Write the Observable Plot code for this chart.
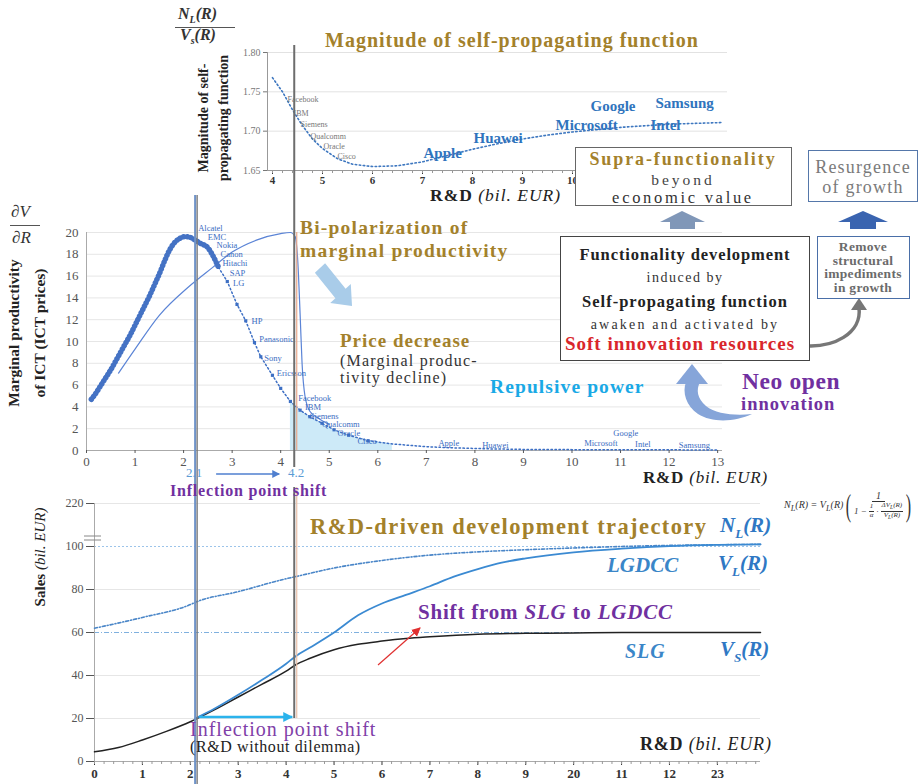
<!DOCTYPE html>
<html><head><meta charset="utf-8">
<script src="https://cdn.jsdelivr.net/npm/d3@7"></script>
<script src="https://cdn.jsdelivr.net/npm/@observablehq/plot@0.6"></script>
<style>
body{margin:0;background:#fff;}
#wrap{position:relative;width:922px;height:784px;overflow:hidden;font-family:"Liberation Serif","Times New Roman",serif;background:#fff;}
#wrap > svg{position:absolute;left:0;top:0;}
.t{position:absolute;white-space:nowrap;line-height:0.85;font-family:"Liberation Serif","Times New Roman",serif;}
.box{position:absolute;background:#fff;box-sizing:border-box;}
.fr{display:inline-flex;flex-direction:column;align-items:center;vertical-align:middle;line-height:1.05;}
.fr > span:first-child{border-bottom:1px solid #333;padding:0 1px;}
</style></head><body><div id="wrap"></div><script>
const FONT = '"Liberation Serif","Times New Roman",serif';
// ---------- top panel: magnitude of self-propagating function ----------
const topRD  = [4.0,4.2,4.4,4.6,4.8,5.0,5.3,5.6,6.0,6.5,7.0,7.5,8.0,8.5,9.0,9.5,10,10.5,11,11.5,12,12.5,13];
const topMag = [1.768,1.75,1.727,1.707,1.69,1.678,1.665,1.658,1.655,1.656,1.661,1.669,1.677,1.684,1.69,1.695,1.699,1.702,1.705,1.707,1.709,1.71,1.711];
const topSmallNames = ["Facebook","IBM","Siemens","Qualcomm","Oracle","Cisco"];
const topSmallX = [4.3,4.42,4.56,4.76,5.02,5.3];
const topSmallY = [1.74,1.723,1.708,1.693,1.68,1.668];
const topBigNames = ["Apple","Huawei","Microsoft","Intel","Google","Samsung"];
const topBigX = [7.02,8.02,9.66,11.56,10.36,11.66];
const topBigY = [1.6715,1.6905,1.708,1.708,1.732,1.735];
const topYTicks = [1.65,1.70,1.75,1.80];
const topXTicks = [4,5,6,7,8,9,10];

// ---------- middle panel: marginal productivity ----------
const aThickX = [0.1,0.2,0.3,0.4,0.5,0.6,0.7,0.8,0.9,1.0,1.1,1.2,1.3,1.4,1.5,1.6,1.7,1.8,1.9,2.0,2.1,2.2,2.35,2.5,2.6,2.72];
const aThickY = [4.7,5.3,6.0,6.7,7.4,8.2,9.0,9.8,10.6,11.5,12.4,13.3,14.2,15.2,16.2,17.3,18.3,19.0,19.4,19.6,19.6,19.4,19.0,18.6,17.9,16.8];
const aThinX = [2.72,2.9,3.1,3.28,3.46,3.59,3.83,4.0,4.2,4.4,4.6,4.85,5.1,5.4,5.8,6.3,7.0,7.5,8.3,9.0,10.0,11.0,12.0,13.0];
const aThinY = [16.8,15.5,13.4,11.9,9.9,8.6,6.9,5.7,4.5,3.7,3.1,2.5,1.9,1.4,0.9,0.6,0.35,0.25,0.15,0.1,0.08,0.08,0.06,0.05];
const bX = [0.66,1.0,1.5,2.1,2.6,3.0,3.5,4.0,4.2,4.3,4.35,4.4,4.44,4.5,4.6,4.8,5.0];
const bY = [7.1,9.3,12.4,15.0,16.8,18.2,19.3,19.9,20.0,19.6,17.5,12.5,8.0,5.0,3.6,2.9,2.4];
const midNames = ["Alcatel","EMC","Nokia","Canon","Hitachi","SAP","LG","HP","Panasonic","Sony","Ericsson","Facebook","IBM","Siemens","Qualcomm","Oracle","Cisco","Apple","Huawei","Microsoft","Google","Intel","Samsung"];
const midNameX = [2.3,2.5,2.68,2.76,2.8,2.95,3.02,3.4,3.56,3.66,3.92,4.36,4.5,4.6,4.85,5.17,5.58,7.25,8.15,10.25,10.85,11.3,12.2];
const midNameY = [20.4,19.6,18.8,18.0,17.2,16.3,15.3,11.9,10.2,8.5,7.1,4.8,3.95,3.15,2.4,1.6,0.85,0.7,0.45,0.7,1.6,0.6,0.45];
const midXTicks = [0,1,2,3,4,5,6,7,8,9,10,11,12,13];
const midYTicks = [0,2,4,6,8,10,12,14,16,18,20];

// ---------- bottom panel: development trajectory ----------
const vsX = [0,0.5,1,1.5,2,2.5,3,3.5,4,4.2,4.5,5,5.5,6,6.5,7,8,9,10,11,12,13,13.9];
const vsY = [4.5,6.5,10,14,18.5,24,30,36,42,45,48,52,54.5,56,57.2,58,59.2,59.6,59.8,60,60,60,60];
const vlX = [2.1,2.5,3,3.5,4,4.2,4.5,5,5.5,6,6.5,7,7.5,8,8.5,9,10,11,12,13,13.9];
const vlY = [20,24.5,31,38,45.5,49,53,60,68,73.5,77.5,81.5,86,89.5,92.5,94.5,97.3,99,100.2,100.8,101];
const nlX = [0,1,2,2.1,3,4,4.2,5,6,7,8,9,10,11,12,13,13.9];
const nlY = [62,67,73,74,79,85,86,90,93.5,96,97.5,98.5,99.3,100,100.5,100.8,101];
const botXTicks  = [0,1,2,3,4,5,6,7,8,9,10,11,12,13];
const botXLabels = ["0","1","2","3","4","5","6","7","8","9","20","11","12","23"];
const botYTicks  = [0,20,40,60,80,100,120];
const botYLabels = ["0","20","40","60","80","100","220"];
const inflection = [2.1, 4.2];

const pts = (xs, ys) => xs.map((x, i) => ({x, y: ys[i]}));
const wrap = document.getElementById("wrap");
const W = 922;
const baseStyle = {background: "transparent", overflow: "visible", fontFamily: FONT};

const topChart = Plot.plot({
  width: W, height: 200, marginLeft: 267, marginRight: W - 727, marginTop: 52, marginBottom: 30,
  x: {domain: [3.9, 13.1], label: null}, y: {domain: [1.65, 1.80], label: null},
  style: baseStyle,
  marks: [
    Plot.gridY({ticks: [1.70, 1.75, 1.80], stroke: "#e2e2e2", strokeOpacity: 1}),
    Plot.ruleX([3.9], {stroke: "#999"}),
    Plot.ruleY([1.65], {stroke: "#999"}),
    Plot.axisY({ticks: topYTicks, tickFormat: d => d.toFixed(2), tickSize: 4, tickPadding: 3, color: "#777", fontSize: 10, label: null}),
    Plot.axisX({ticks: topXTicks, tickFormat: d => String(d), tickSize: 4, tickPadding: 2, color: "#333", fontSize: 11, fontWeight: "bold", label: null}),
    Plot.axisX({ticks: d3.range(4, 13.05, 0.2), tickFormat: () => "", tickSize: 3, color: "#999", label: null}),
    Plot.line(pts(topRD, topMag), {x: "x", y: "y", stroke: "#3f78c0", strokeWidth: 1.6, strokeDasharray: "1.5,2.5"}),
    Plot.text(topSmallNames, {x: (d, i) => topSmallX[i], y: (d, i) => topSmallY[i], text: d => d, textAnchor: "start", fontSize: 8, fill: "#777"}),
    Plot.text(topBigNames, {x: (d, i) => topBigX[i], y: (d, i) => topBigY[i], text: d => d, textAnchor: "start", fontSize: 15, fontWeight: "bold", fill: "#2f74bd"})
  ]
});

const shade = pts(aThinX, aThinY).filter(d => d.x >= 4.2 && d.x <= 6.3);
const midChart = Plot.plot({
  width: W, height: 480, marginLeft: 86, marginRight: W - 722, marginTop: 232, marginBottom: 30,
  x: {domain: [0, 13.1], label: null}, y: {domain: [0, 20], label: null},
  style: baseStyle,
  marks: [
    Plot.gridY({ticks: d3.range(2, 21, 2), stroke: "#e6e6e6", strokeOpacity: 1}),
    Plot.areaY(shade, {x: "x", y: "y", fill: "#cdeaf8"}),
    Plot.ruleY([0], {stroke: "#aaa"}),
    Plot.ruleX([0], {stroke: "#aaa"}),
    Plot.axisY({ticks: midYTicks, tickSize: 0, tickPadding: 8, color: "#555", fontSize: 13, label: null}),
    Plot.axisX({ticks: midXTicks, tickSize: 3, tickPadding: 3, color: "#555", fontSize: 13, label: null}),
    Plot.line(pts(bX, bY), {x: "x", y: "y", stroke: "#5b84d6", strokeWidth: 1.2, curve: "monotone-x"}),
    Plot.line(pts(aThinX, aThinY), {x: "x", y: "y", stroke: "#3d6fc4", strokeWidth: 1.5, strokeDasharray: "1.5,2.5"}),
    Plot.dot(pts(aThinX, aThinY).filter(d => d.x < 6), {x: "x", y: "y", symbol: "square", r: 1.8, fill: "#3d6fc4"}),
    Plot.line(pts(aThickX, aThickY), {x: "x", y: "y", stroke: "#4472c4", strokeWidth: 5.5, strokeDasharray: "0.1,3.6", strokeLinecap: "round", curve: "monotone-x"}),
    Plot.text(midNames, {x: (d, i) => midNameX[i], y: (d, i) => midNameY[i], text: d => d, textAnchor: "start", fontSize: 8.5, fill: "#3c6dc2"})
  ]
});

const botChart = Plot.plot({
  width: W, height: 784, marginLeft: 94, marginRight: W - 760, marginTop: 503, marginBottom: 23,
  x: {domain: [0, 13.9], label: null}, y: {domain: [0, 120], label: null},
  style: baseStyle,
  marks: [
    Plot.gridY({ticks: [20, 40, 80, 120], stroke: "#e6e6e6", strokeOpacity: 1}),
    Plot.ruleY([60], {stroke: "#7fb0de", strokeDasharray: "5,2,1,2", strokeWidth: 1}),
    Plot.ruleY([100], {stroke: "#9cc4ea", strokeDasharray: "2,2", strokeWidth: 1}),
    Plot.ruleX([0], {stroke: "#aaa"}),
    Plot.ruleY([0], {stroke: "#aaa"}),
    Plot.axisY({ticks: botYTicks, tickFormat: d => botYLabels[botYTicks.indexOf(d)], tickSize: 8, tickPadding: 3, color: "#555", fontSize: 12, label: null}),
    Plot.axisX({ticks: botXTicks, tickFormat: d => botXLabels[botXTicks.indexOf(d)], tickSize: 4, tickPadding: 3, color: "#333", fontSize: 13, fontWeight: "bold", label: null}),
    Plot.axisX({ticks: d3.range(0, 13.9, 0.2), tickFormat: () => "", tickSize: 3, color: "#999", label: null}),
    Plot.line(pts(nlX, nlY), {x: "x", y: "y", stroke: "#4a86c8", strokeWidth: 1.6, strokeDasharray: "3,2,1,2", curve: "monotone-x"}),
    Plot.line(pts(vsX, vsY), {x: "x", y: "y", stroke: "#222", strokeWidth: 1.5, curve: "monotone-x"}),
    Plot.line(pts(vlX, vlY), {x: "x", y: "y", stroke: "#3b8ad2", strokeWidth: 1.8, curve: "monotone-x"})
  ]
});

[topChart, midChart, botChart].forEach(c => wrap.appendChild(c));

// ---------- overlay (lines and arrows from the scales) ----------
const xb = v => botChart.scale("x").apply(v);
const yb = v => botChart.scale("y").apply(v);
const ym = v => midChart.scale("y").apply(v);
const x21 = xb(inflection[0]) + 1.5, x42 = xb(inflection[1]);
const NS = "http://www.w3.org/2000/svg";
const ov = document.createElementNS(NS, "svg");
ov.setAttribute("width", W); ov.setAttribute("height", 784);
ov.style.cssText = "position:absolute;left:0;top:0;overflow:visible";
ov.innerHTML = `
<defs>
 <marker id="mb" markerWidth="8" markerHeight="8" refX="7" refY="4" orient="auto" markerUnits="userSpaceOnUse"><path d="M0,0 L8,4 L0,8 z" fill="#4f7fcf"/></marker>
 <marker id="mc" markerWidth="10" markerHeight="10" refX="9" refY="5" orient="auto" markerUnits="userSpaceOnUse"><path d="M0,0 L10,5 L0,10 z" fill="#2bb3ec"/></marker>
 <marker id="mr" markerWidth="9" markerHeight="9" refX="8" refY="4.5" orient="auto" markerUnits="userSpaceOnUse"><path d="M0,0 L9,4.5 L0,9 z" fill="#e03030"/></marker>
</defs>
<line x1="${x21-1}" y1="195" x2="${x21-1}" y2="784" stroke="#6f93c8" stroke-width="2"/>
<line x1="${x21+1}" y1="195" x2="${x21+1}" y2="784" stroke="#7a7a7a" stroke-width="1.4"/>
<line x1="${x42-1}" y1="45" x2="${x42-1}" y2="467" stroke="#6d6d6d" stroke-width="2"/>
<line x1="${x42+1.5}" y1="${ym(20)}" x2="${x42+1.5}" y2="${ym(0)}" stroke="#e9a98c" stroke-width="1.2"/>
<line x1="${x42-1}" y1="487" x2="${x42-1}" y2="${yb(20)}" stroke="#6d6d6d" stroke-width="2"/>
<line x1="${x42+1.5}" y1="487" x2="${x42+1.5}" y2="${yb(20)}" stroke="#e9c0a8" stroke-width="1.2"/>
<line x1="${x21+20}" y1="474" x2="${x42-16}" y2="474" stroke="#4f7fcf" stroke-width="1.5" marker-end="url(#mb)"/>
<line x1="${x21+3}" y1="${yb(20)-1}" x2="${x42-3}" y2="${yb(20)-1}" stroke="#2bb3ec" stroke-width="2.5" marker-end="url(#mc)"/>
<line x1="378" y1="665" x2="420" y2="628" stroke="#e03030" stroke-width="1.2" marker-end="url(#mr)"/>
<line x1="84" y1="536" x2="101" y2="536" stroke="#888" stroke-width="1"/>
<line x1="84" y1="540" x2="101" y2="540" stroke="#888" stroke-width="1"/>
<polygon points="314.9,272.7 335.4,298.2 330.2,303 352,306 350.8,284 345.6,288.8 325.1,263.3" fill="#a9cce9"/>
<polygon points="660,222 682,211 705,222 695,222 695,229 670,229 670,222" fill="#8097b8"/>
<polygon points="838,222 863,211 888,222 876,222 876,229 850,229 850,222" fill="#3a64b0"/>
<path d="M798,345 C835,350 862,332 859,308" fill="none" stroke="#777" stroke-width="3.5"/>
<polygon points="851,310 867,310 859,298" fill="#777"/>
<path d="M686,382 C682,392 686,406 698,414 C712,423 735,422 752,414 C735,416 716,414 706,406 C697,398 696,390 700,382 Z" fill="#86a5d9"/>
<polygon points="676,384 708,384 692,364" fill="#86a5d9"/>
`;
wrap.appendChild(ov);

// ---------- text and boxes ----------
function T(x, y, html, css, anchor) {
  const d = document.createElement("div");
  d.className = "t";
  const tx = anchor === "middle" ? "-50%" : "0";
  d.style.cssText = `left:${x}px;top:${y}px;transform:translate(${tx},-50%);${css || ""}`;
  d.innerHTML = html;
  wrap.appendChild(d);
  return d;
}
function R(cx, cy, html, css) {
  const d = document.createElement("div");
  d.style.cssText = `position:absolute;left:${cx}px;top:${cy}px;transform:translate(-50%,-50%) rotate(-90deg);white-space:nowrap;text-align:center;font-family:${FONT};${css}`;
  d.innerHTML = html;
  wrap.appendChild(d);
}
function B(x, y, w, h, css) {
  const d = document.createElement("div");
  d.className = "box";
  d.style.cssText = `left:${x}px;top:${y}px;width:${w}px;height:${h}px;${css}`;
  wrap.appendChild(d);
}
const gold = "#a3812b", purple = "#7030a0", blue = "#2f78c4", cyan = "#19a9e6";

// top panel texts
T(178, 16, "<i><b>N<sub style='font-size:10px'>L</sub>(R)</b></i>", `font-size:16px;color:#333`);
T(180, 37, "<i><b>V<sub style='font-size:10px'>s</sub>(R)</b></i>", `font-size:16px;color:#333`);
B(175, 27, 60, 1.3, "background:#555");
T(325, 40, "Magnitude of self-propagating function", `font-size:20px;font-weight:bold;color:${gold};letter-spacing:1px`);
R(214, 118, "Magnitude of self-<br>propagating function", "font-size:14px;font-weight:bold;line-height:20px;color:#222");
T(430, 195, "<b>R&amp;D</b> <i>(bil. EUR)</i>", "font-size:17.5px;color:#222;letter-spacing:1px");

// middle texts
T(11, 212, "<i>∂V</i>", "font-size:17px;color:#333");
B(10, 225, 30, 1.3, "background:#555");
T(12, 238, "<i>∂R</i>", "font-size:17px;color:#333");
R(27, 333, "Marginal productivity<br>of ICT (ICT prices)", "font-size:15.5px;font-weight:bold;line-height:26px;color:#222");
T(300, 228, "Bi-polarization of", `font-size:19.5px;font-weight:bold;color:${gold};letter-spacing:1.2px`);
T(300, 251, "marginal productivity", `font-size:19.5px;font-weight:bold;color:${gold};letter-spacing:1.2px`);
T(340, 341, "Price decrease", `font-size:19px;font-weight:bold;color:${gold};letter-spacing:1px`);
T(340, 361, "(Marginal produc-", "font-size:16px;color:#333;letter-spacing:1.2px");
T(340, 378, "tivity decline)", "font-size:16px;color:#333;letter-spacing:1.2px");
T(490, 387, "Repulsive power", `font-size:19.5px;font-weight:bold;color:${cyan};letter-spacing:1.1px`);
T(742, 382, "Neo open", `font-size:23.5px;font-weight:bold;color:${purple};letter-spacing:0.6px`);
T(741, 405, "innovation", `font-size:18.5px;font-weight:bold;color:${purple};letter-spacing:1px`);
T(x21 - 2, 473, "2.1", "font-size:13px;color:#5b9bd5", "middle");
T(x42 + 1, 473, "4.2", "font-size:13px;color:#5b9bd5", "middle");
T(170, 491, "Inflection point shift", `font-size:16px;font-weight:bold;color:${purple};letter-spacing:0.8px`);
T(643, 478, "<b>R&amp;D</b> <i>(bil. EUR)</i>", "font-size:17px;color:#222;letter-spacing:0.8px");

// right side boxes
B(575, 147, 217, 59, "border:1.5px solid #666");
T(683, 160, "Supra-functionality", `font-size:18px;font-weight:bold;color:${gold};letter-spacing:1.9px`, "middle");
T(683, 180, "beyond", "font-size:15.5px;color:#444;letter-spacing:3px", "middle");
T(683, 197.5, "economic value", "font-size:16.5px;color:#333;letter-spacing:2.7px", "middle");
B(808, 150, 110, 52, "border:1.5px solid #5577aa");
T(863, 168, "Resurgence", "font-size:18px;color:#7a7a7a;letter-spacing:1.2px", "middle");
T(863, 188, "of growth", "font-size:18px;color:#7a7a7a;letter-spacing:1.2px", "middle");
B(560, 236, 250, 125, "border:1.5px solid #444");
T(685, 255, "Functionality development", "font-size:16.5px;font-weight:bold;color:#222;letter-spacing:0.9px", "middle");
T(685, 278, "induced by", "font-size:14px;color:#333;letter-spacing:1.5px", "middle");
T(685, 302, "Self-propagating function", "font-size:16.5px;font-weight:bold;color:#222;letter-spacing:1px", "middle");
T(685, 325, "awaken and activated by", "font-size:14px;color:#333;letter-spacing:2.2px", "middle");
T(680, 344, "Soft innovation resources", "font-size:19px;font-weight:bold;color:#d9262b;letter-spacing:1px", "middle");
B(817, 236, 93, 63, "border:1.5px solid #4a6fa8");
["Remove", "structural", "impediments", "in growth"].forEach((s, i) =>
  T(863, 247 + i * 13.7, s, "font-size:13.5px;font-weight:bold;color:#6b6b6b;letter-spacing:0.3px", "middle"));

// bottom texts
R(40, 557, "<b>Sales</b> <i>(bil. EUR)</i>", "font-size:15px;color:#222");
T(310, 527, "R&amp;D-driven development trajectory", `font-size:22.5px;font-weight:bold;color:${gold};letter-spacing:1.4px`);
T(720, 528, "<i><b>N<sub style='font-size:13px'>L</sub>(R)</b></i>", `font-size:21px;color:${blue}`);
T(607, 566, "<i><b>LGDCC</b></i>", `font-size:21px;color:#3a86c8`);
T(718, 566, "<i><b>V<sub style='font-size:13px'>L</sub>(R)</b></i>", `font-size:21px;color:${blue}`);
T(418, 613, "Shift from <i>SLG</i> to <i>LGDCC</i>", `font-size:21px;font-weight:bold;color:${purple};letter-spacing:0.8px`);
T(625, 651, "<i><b>SLG</b></i>", `font-size:20px;color:#3a86c8;letter-spacing:1px`);
T(720, 652, "<i><b>V<sub style='font-size:13px'>S</sub>(R)</b></i>", `font-size:21px;color:${blue}`);
T(190, 729, "Inflection point shift", "font-size:20px;color:#8040a8;letter-spacing:1px");
T(190, 747, "(R&amp;D without dilemma)", "font-size:16px;color:#222;letter-spacing:0.6px");
T(640, 745, "<b>R&amp;D</b> <i>(bil. EUR)</i>", "font-size:18px;color:#222;letter-spacing:0.8px");

// formula
const f = document.createElement("div");
f.style.cssText = `position:absolute;left:784px;top:487px;display:flex;align-items:center;font-family:${FONT};font-size:10px;font-style:italic;color:#333;white-space:nowrap`;
f.innerHTML = `<span>N<sub>L</sub>(R) = V<sub>L</sub>(R)</span>
<span style="font-size:32px;font-style:normal;font-weight:100;margin:0;display:inline-block;transform:scaleX(0.5)">(</span>
<span class="fr"><span style="border-bottom:1px solid #333;padding:0 4px">1</span>
<span style="display:flex;align-items:center;gap:2px;font-size:9px">1 − <span class="fr" style="font-size:7px"><span>1</span><span>α</span></span> · <span class="fr" style="font-size:7px"><span>ΔV<sub>L</sub>(R)</span><span>V<sub>L</sub>(R)</span></span></span></span>
<span style="font-size:32px;font-style:normal;font-weight:100;margin:0;display:inline-block;transform:scaleX(0.5)">)</span>`;
wrap.appendChild(f);
</script></body></html>
